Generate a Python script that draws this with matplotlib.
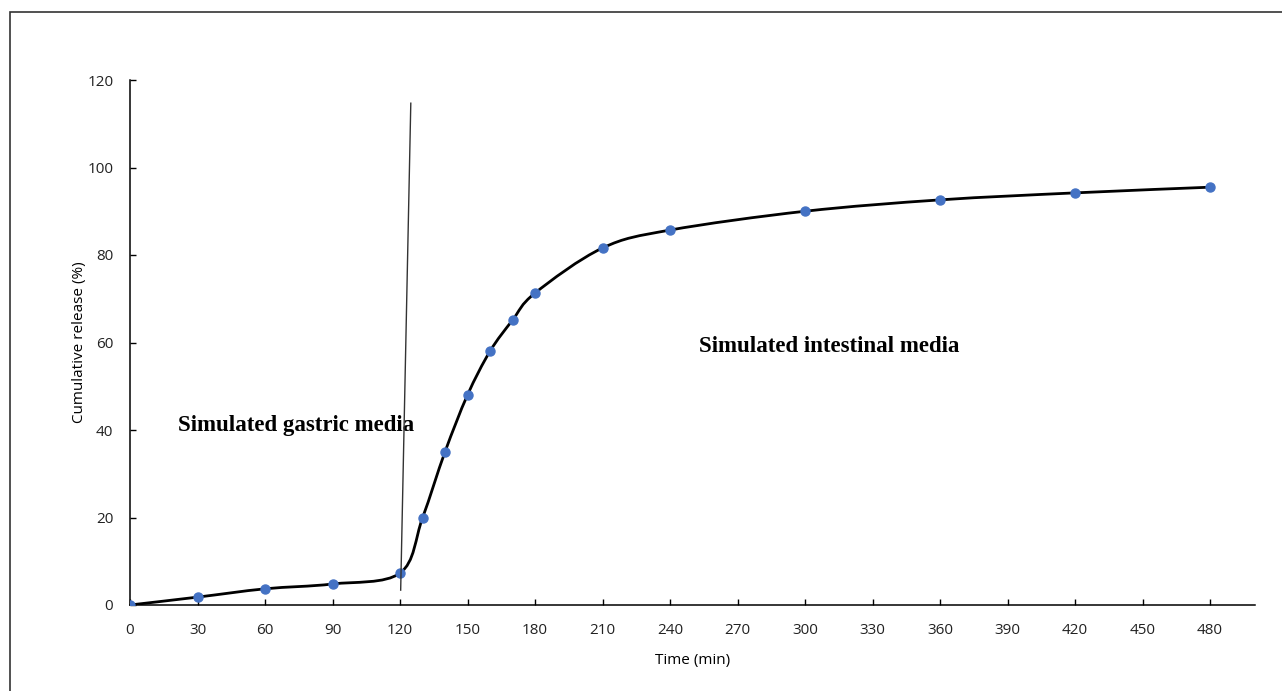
import numpy as np
import matplotlib.pyplot as plt
from matplotlib.path import Path
from matplotlib.patches import PathPatch, Rectangle

# 释放数据
time_min = [0, 30, 60, 90, 120, 130, 140, 150, 160, 170, 180, 210, 240, 300, 360, 420, 480]
release = [0, 1.8, 3.7, 4.8, 7.3, 19.9, 35, 48, 58, 65.1, 71.3, 81.6, 85.7, 90, 92.6, 94.2, 95.5]

x_ticks = list(range(0, 481, 30))
y_ticks = list(range(0, 121, 20))

# 分隔线（胃液 / 肠液）
divider_x = [124.8, 120.3]
divider_y = [114.7, 3.4]

label_font = ["Open Sans", "DejaVu Sans"]
note_font = ["Liberation Serif", "DejaVu Serif"]


def smooth_path(xs, ys):
    """Excel 风格平滑线：Catmull-Rom 转 Bezier"""
    pts = np.column_stack([xs, ys]).astype(float)
    n = len(pts)
    verts = [pts[0]]
    codes = [Path.MOVETO]
    for i in range(n - 1):
        p0 = pts[i - 1] if i > 0 else pts[i]
        p1 = pts[i]
        p2 = pts[i + 1]
        p3 = pts[i + 2] if i + 2 < n else pts[i + 1]
        c1 = p1 + (p2 - p0) / 6.0
        c2 = p2 - (p3 - p1) / 6.0
        verts += [c1, c2, p2]
        codes += [Path.CURVE4] * 3
    return Path(verts, codes)


fig = plt.figure(figsize=(12.82, 6.91), dpi=100)
fig.patches.append(
    Rectangle((10 / 1282, -0.1), 1.2, 1 - 12 / 691 + 0.1,
              transform=fig.transFigure, fill=False,
              edgecolor="#333333", linewidth=1.2)
)

ax = fig.add_axes([130 / 1282, 1 - 605 / 691, (1255 - 130) / 1282, (605 - 80) / 691])

ax.add_patch(PathPatch(smooth_path(time_min, release), facecolor="none",
                       edgecolor="black", linewidth=2.0, zorder=3))
ax.plot(time_min, release, linestyle="none", marker="o", markersize=6.5,
        color="#4472C4", zorder=4)
ax.plot(divider_x, divider_y, color="#333333", linewidth=1.0, zorder=5)

ax.text(21.3, 41, "Simulated gastric media", fontsize=16.5, fontweight="bold",
        family=note_font, va="center", ha="left")
ax.text(252.7, 59, "Simulated intestinal media", fontsize=16.5, fontweight="bold",
        family=note_font, va="center", ha="left")

ax.set_xlim(0, 500)
ax.set_ylim(0, 120)
ax.set_xticks(x_ticks)
ax.set_yticks(y_ticks)
ax.tick_params(direction="in", length=4, width=1, labelsize=11)
ax.tick_params(axis="x", pad=13)
ax.tick_params(axis="y", pad=12)
for lab in ax.get_xticklabels() + ax.get_yticklabels():
    lab.set_family(label_font)
    lab.set_color("#222222")

for side in ["top", "right"]:
    ax.spines[side].set_visible(False)
for side in ["left", "bottom"]:
    ax.spines[side].set_linewidth(1.1)

ax.set_xlabel("Time (min)", fontsize=11, family=label_font, labelpad=11)
ax.set_ylabel("Cumulative release (%)", fontsize=11, family=label_font, labelpad=0)

fig.savefig("out.png", dpi=100)
